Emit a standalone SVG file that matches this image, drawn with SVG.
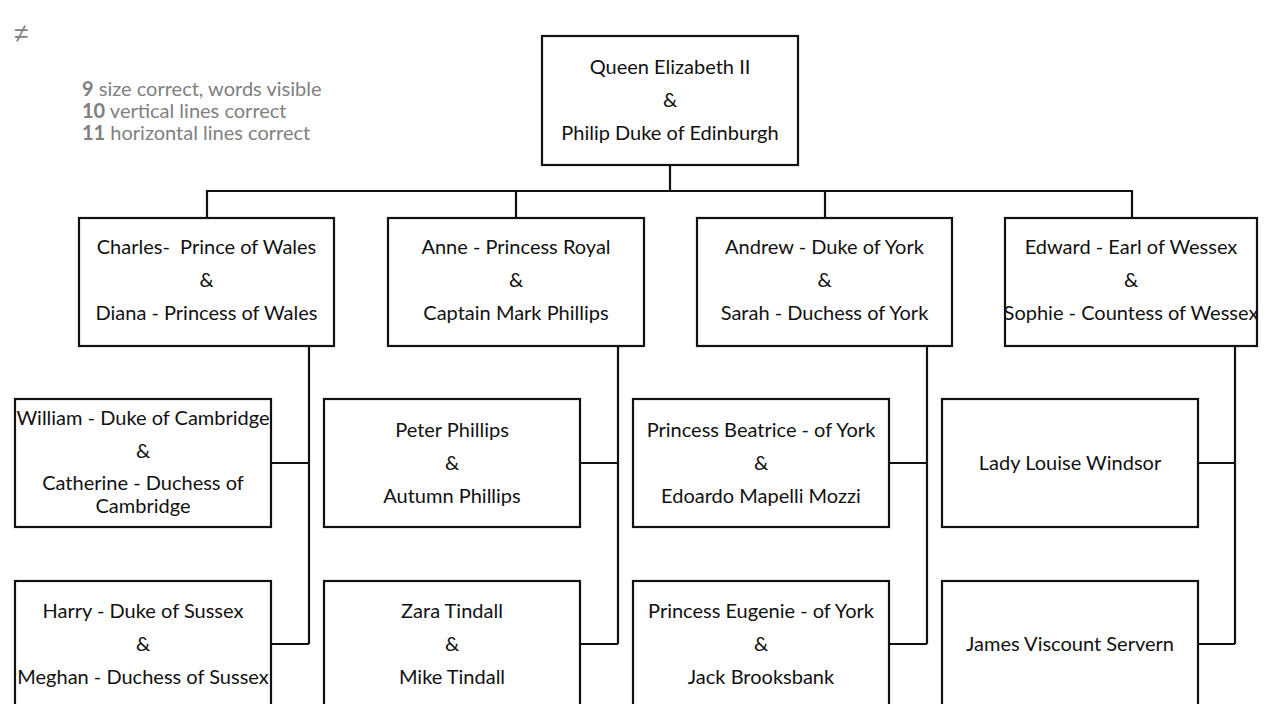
<svg xmlns="http://www.w3.org/2000/svg" width="1265" height="704" viewBox="0 0 1265 704">
<style>
.box{fill:#fff;stroke:#111;stroke-width:2.2}
.t{font-family:Lato,"Liberation Sans",sans-serif;font-size:20px;fill:#111;text-anchor:middle}
.lg{font-family:Lato,"Liberation Sans",sans-serif;font-size:20px;fill:#808080}
.lg tspan.b{font-weight:bold}
.ne{font-family:"Liberation Sans","DejaVu Sans",sans-serif;font-size:26px;fill:#808080}
.c{fill:none;stroke:#111;stroke-width:2.2}
</style>
<rect width="1265" height="704" fill="#fff"/>
<text x="14" y="42" class="ne">≠</text>
<g id="legend">
<text x="82" y="96" class="lg"><tspan class="b">9</tspan> size correct, words visible</text>
<text x="82" y="118" class="lg"><tspan class="b">10</tspan> vertical lines correct</text>
<text x="82" y="140" class="lg"><tspan class="b">11</tspan> horizontal lines correct</text>
</g>
<g id="connectors">
<path class="c" d="M670,165V191M207,218V191H1132V218M516,191V218M825,191V218"/>
<path class="c" d="M309,346V644M271,463H309M271,644H309"/>
<path class="c" d="M618,346V644M580,463H618M580,644H618"/>
<path class="c" d="M927,346V644M889,463H927M889,644H927"/>
<path class="c" d="M1235,346V644M1198,463H1235M1198,644H1235"/>
</g>
<g id="queen">
<rect class="box" x="542" y="36" width="256" height="129"/>
<text class="t" x="670" y="74">Queen Elizabeth II</text>
<text class="t" x="670" y="107">&amp;</text>
<text class="t" x="670" y="140">Philip Duke of Edinburgh</text>
</g>
<g id="charles">
<rect class="box" x="79" y="218" width="255" height="128"/>
<text class="t" x="206.5" y="254" xml:space="preserve">Charles-  Prince of Wales</text>
<text class="t" x="206.5" y="287">&amp;</text>
<text class="t" x="206.5" y="320">Diana - Princess of Wales</text>
</g>
<g id="anne">
<rect class="box" x="388" y="218" width="256" height="128"/>
<text class="t" x="516" y="254">Anne - Princess Royal</text>
<text class="t" x="516" y="287">&amp;</text>
<text class="t" x="516" y="320">Captain Mark Phillips</text>
</g>
<g id="andrew">
<rect class="box" x="697" y="218" width="255" height="128"/>
<text class="t" x="824.5" y="254">Andrew - Duke of York</text>
<text class="t" x="824.5" y="287">&amp;</text>
<text class="t" x="824.5" y="320">Sarah - Duchess of York</text>
</g>
<g id="edward">
<rect class="box" x="1005" y="218" width="252" height="128"/>
<text class="t" x="1131" y="254">Edward - Earl of Wessex</text>
<text class="t" x="1131" y="287">&amp;</text>
<text class="t" x="1131" y="320">Sophie - Countess of Wessex</text>
</g>
<g id="william">
<rect class="box" x="15" y="399" width="256" height="128"/>
<text class="t" x="143" y="425">William - Duke of Cambridge</text>
<text class="t" x="143" y="458">&amp;</text>
<text class="t" x="143" y="490">Catherine - Duchess of</text>
<text class="t" x="143" y="513">Cambridge</text>
</g>
<g id="harry">
<rect class="box" x="15" y="581" width="256" height="128"/>
<text class="t" x="143" y="618">Harry - Duke of Sussex</text>
<text class="t" x="143" y="651">&amp;</text>
<text class="t" x="143" y="684">Meghan - Duchess of Sussex</text>
</g>
<g id="peter">
<rect class="box" x="324" y="399" width="256" height="128"/>
<text class="t" x="452" y="437">Peter Phillips</text>
<text class="t" x="452" y="470">&amp;</text>
<text class="t" x="452" y="503">Autumn Phillips</text>
</g>
<g id="zara">
<rect class="box" x="324" y="581" width="256" height="128"/>
<text class="t" x="452" y="618">Zara Tindall</text>
<text class="t" x="452" y="651">&amp;</text>
<text class="t" x="452" y="684">Mike Tindall</text>
</g>
<g id="beatrice">
<rect class="box" x="633" y="399" width="256" height="128"/>
<text class="t" x="761" y="437">Princess Beatrice - of York</text>
<text class="t" x="761" y="470">&amp;</text>
<text class="t" x="761" y="503">Edoardo Mapelli Mozzi</text>
</g>
<g id="eugenie">
<rect class="box" x="633" y="581" width="256" height="128"/>
<text class="t" x="761" y="618">Princess Eugenie - of York</text>
<text class="t" x="761" y="651">&amp;</text>
<text class="t" x="761" y="684">Jack Brooksbank</text>
</g>
<g id="louise">
<rect class="box" x="942" y="399" width="256" height="128"/>
<text class="t" x="1070" y="470">Lady Louise Windsor</text>
</g>
<g id="james">
<rect class="box" x="942" y="581" width="256" height="128"/>
<text class="t" x="1070" y="651">James Viscount Servern</text>
</g>
</svg>
